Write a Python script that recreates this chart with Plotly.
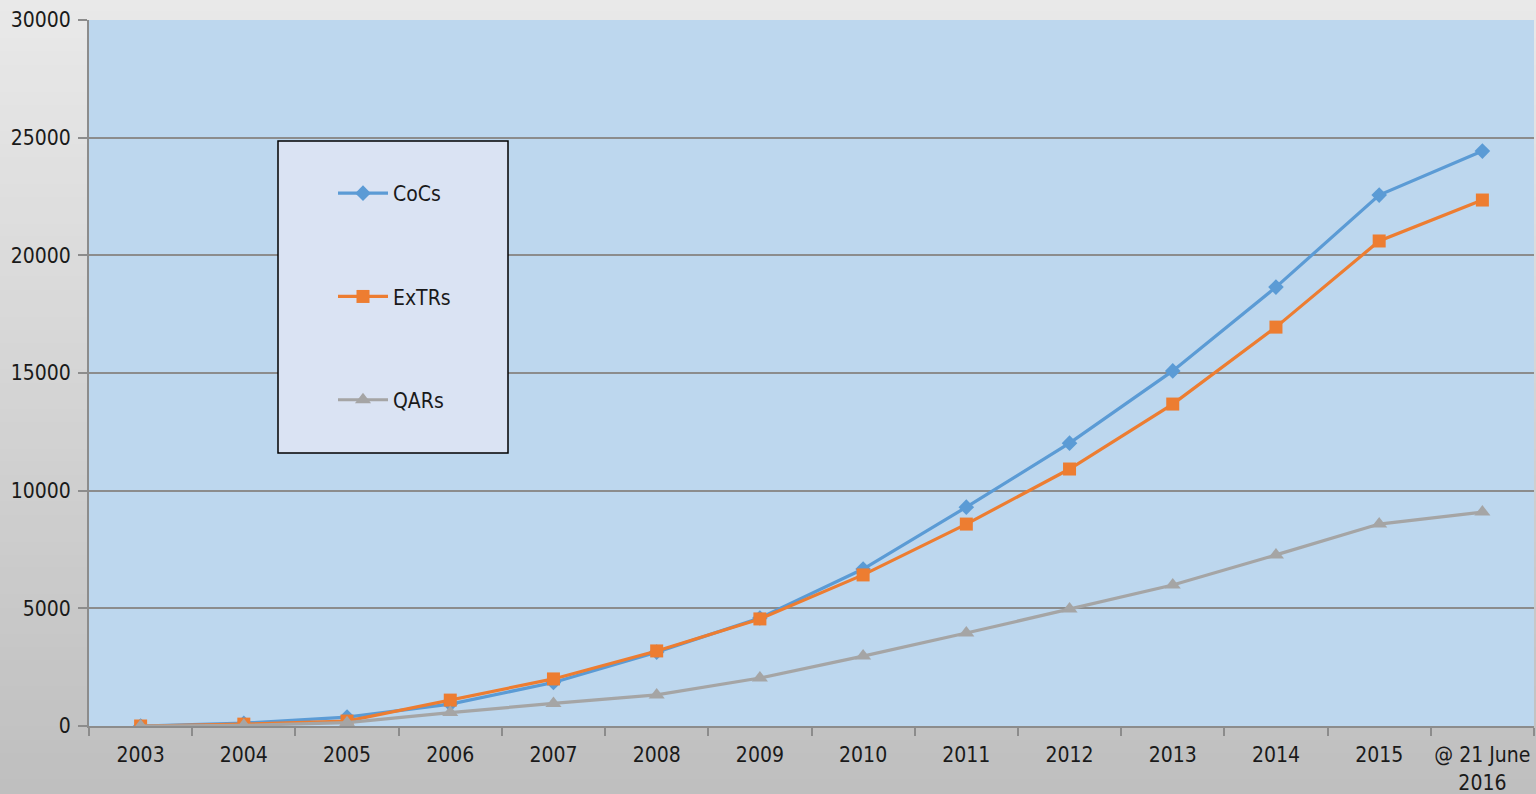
import plotly.graph_objects as go

categories = ["2003", "2004", "2005", "2006", "2007", "2008", "2009", "2010",
              "2011", "2012", "2013", "2014", "2015", "@ 21 June<br>2016"]
cocs = [0, 120, 380, 930, 1850, 3140, 4590, 6670, 9300, 12020, 15090, 18650, 22560, 24430]
extrs = [0, 80, 210, 1100, 2000, 3190, 4550, 6420, 8580, 10920, 13680, 16950, 20610, 22350]
qars = [0, 30, 140, 570, 960, 1320, 2040, 2970, 3950, 4970, 5990, 7270, 8580, 9090]
y_ticks = [0, 5000, 10000, 15000, 20000, 25000, 30000]
y_tick_text = ["0", "5000", "10000", "15000", "20000", "25000", "30000"]

FONT = "Liberation Sans Narrow, Arial Narrow, DejaVu Sans Condensed, sans-serif"

W, H = 1536, 794
ML, MR, MT, MB = 89, 2, 20, 68
pw = W - ML - MR
ph = H - MT - MB

def px_to_paper_x(px):
    return (px - ML) / pw

def px_to_paper_y(py):
    return (H - MB - py) / ph

fig = go.Figure()

series = [
    ("CoCs", cocs, "#5B9BD5", "diamond", 12),
    ("ExTRs", extrs, "#ED7D31", "square", 13),
    ("QARs", qars, "#A5A5A5", "triangle-up", 14),
]
for i, (name, vals, col, sym, sz) in enumerate(series):
    fig.add_trace(go.Scatter(
        x=categories, y=vals, name=name, mode="lines+markers",
        line=dict(color=col, width=3.2),
        marker=dict(symbol=sym, size=sz, color=col),
        legendgroup=f"g{i}",
    ))

shapes = []
# gradient background
n = 60
top = (233, 233, 233)
bot = (191, 191, 191)
for k in range(n):
    t = k / (n - 1)
    c = tuple(round(top[j] + (bot[j] - top[j]) * t) for j in range(3))
    y1 = px_to_paper_y(H * k / n)
    y0 = px_to_paper_y(H * (k + 1) / n)
    shapes.append(dict(type="rect", xref="paper", yref="paper",
                       x0=px_to_paper_x(-5), x1=px_to_paper_x(W + 5),
                       y0=y0 - 0.002, y1=y1 + 0.002,
                       fillcolor=f"rgb{c}", line=dict(width=0), layer="below"))
# plot area
shapes.append(dict(type="rect", xref="paper", yref="paper", x0=0, x1=1, y0=0, y1=1,
                   fillcolor="#BDD7EE", line=dict(width=0), layer="below"))
# legend box
shapes.append(dict(type="rect", xref="paper", yref="paper",
                   x0=px_to_paper_x(278), x1=px_to_paper_x(508),
                   y0=px_to_paper_y(453), y1=px_to_paper_y(141),
                   fillcolor="#DAE3F3", line=dict(color="#000000", width=1.5),
                   layer="above"))

fig.update_layout(
    width=W, height=H,
    margin=dict(l=ML, r=MR, t=MT, b=MB, autoexpand=False),
    paper_bgcolor="#D4D4D4",
    plot_bgcolor="rgba(0,0,0,0)",
    font=dict(family=FONT, size=21, color="#1A1A1A"),
    shapes=shapes,
    showlegend=True,
    legend=dict(
        x=px_to_paper_x(333), y=px_to_paper_y(173), xanchor="left", yanchor="top",
        bgcolor="rgba(0,0,0,0)", borderwidth=0,
        traceorder="grouped", tracegroupgap=73, itemwidth=50,
        font=dict(family=FONT, size=21, color="#1A1A1A"),
    ),
    xaxis=dict(
        type="category", tickson="boundaries", ticks="outside", ticklen=8,
        tickcolor="#8C8C8C", tickwidth=1.5, showgrid=False,
        showline=True, linecolor="#8C8C8C", linewidth=2,
        range=[-0.5, len(categories) - 0.5], tickangle=0,
        ticklabelstandoff=9, automargin=False,
    ),
    yaxis=dict(
        range=[0, 30000], tickvals=y_ticks, ticktext=y_tick_text,
        ticks="outside", ticklen=9,
        tickcolor="#8C8C8C", tickwidth=1.5,
        showgrid=True, gridcolor="#8C8C8C", gridwidth=1.5,
        showline=True, linecolor="#8C8C8C", linewidth=2,
        zeroline=False, ticklabelstandoff=3, automargin=False,
    ),
)

fig.write_html(
    "out.html",
    config={"displayModeBar": False},
    post_script="document.body.style.margin='0';document.body.style.overflow='hidden';",
)
